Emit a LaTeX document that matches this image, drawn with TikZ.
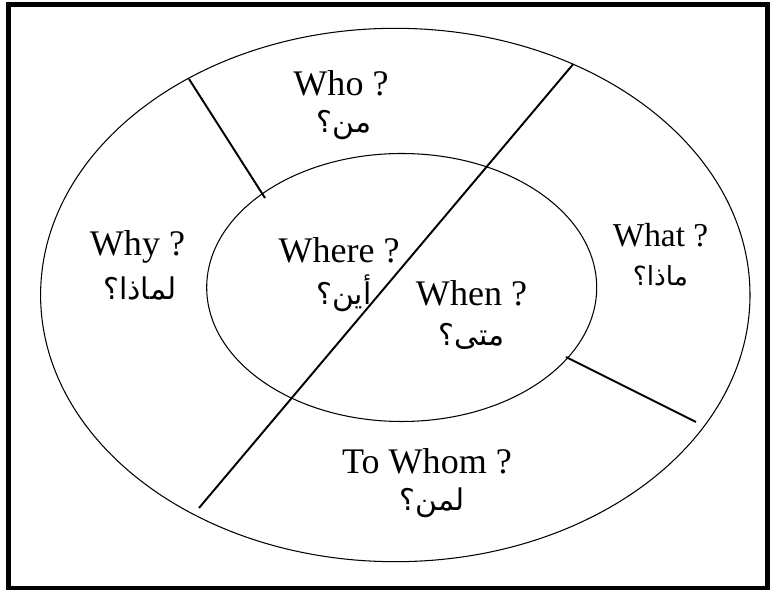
\documentclass[tikz,border=0pt]{standalone}
\usepackage{fontspec}
\setmainfont{Liberation Serif}
\newfontfamily\arabicfont[Script=Arabic]{DejaVu Sans}
\TeXXeTstate=1
\usetikzlibrary{calc}
\newcommand{\artext}[1]{\beginR #1\endR}

\begin{document}
\begin{tikzpicture}[en/.style={font=\fontsize{20.5}{24}\selectfont, inner sep=0pt},
                    ar/.style={font=\arabicfont\fontsize{17}{20}\selectfont, inner sep=0pt}]
			\useasboundingbox (0,0) rectangle (15.4,11.8);
			\draw[line width=0.1cm] (0.18,0.03) rectangle (15.35,11.7);
			% the two rings
			\draw[line width=0.6pt] (7.906,5.9) ellipse (7.094cm and 5.334cm);
			\draw[line width=0.6pt] (8.034,6.05) ellipse (3.9cm and 2.68cm);
			% ends of the dividing lines
			\coordinate (diagtop) at (11.466,10.52);
			\coordinate (diagbot) at (3.98,1.64);
			\coordinate (ulout) at (3.78,10.22);
			\coordinate (ulin) at (5.30,7.84);
			\coordinate (lrin) at (11.32,4.66);
			\coordinate (lrout) at (13.92,3.36);
			\draw[line width=1.1pt] (diagtop) -- (diagbot);
			\draw[line width=1.1pt] (ulout) -- (ulin);
			\draw[line width=1.1pt] (lrin) -- (lrout);
			% labels
			\node[en] (who) at (6.82,10.14) {Who ?};
			\node[ar] (whoar) at (6.88,9.3) {\artext{من؟}};
			\node[en] (why) at (2.75,6.87) {Why ?};
			\node[ar] (whyar) at (2.8,6.02) {\artext{لماذا؟}};
			\node[en] (where) at (6.78,6.8) {Where ?};
			\node[ar] (wherear) at (6.88,5.94) {\artext{أين؟}};
			\node[en] (when) at (9.43,5.93) {When ?};
			\node[ar] (whenar) at (9.43,5.08) {\artext{متى؟}};
			\node[en,font=\fontsize{19}{22}\selectfont] (what) at (13.21,7.1) {What ?};
			\node[ar,font=\arabicfont\fontsize{15}{18}\selectfont] (whatar) at (13.21,6.28) {\artext{ماذا؟}};
			\node[en] (towhom) at (8.54,2.58) {To Whom ?};
			\node[ar] (towhomar) at (8.64,1.74) {\artext{لمن؟}};
		\end{tikzpicture}
\end{document}
